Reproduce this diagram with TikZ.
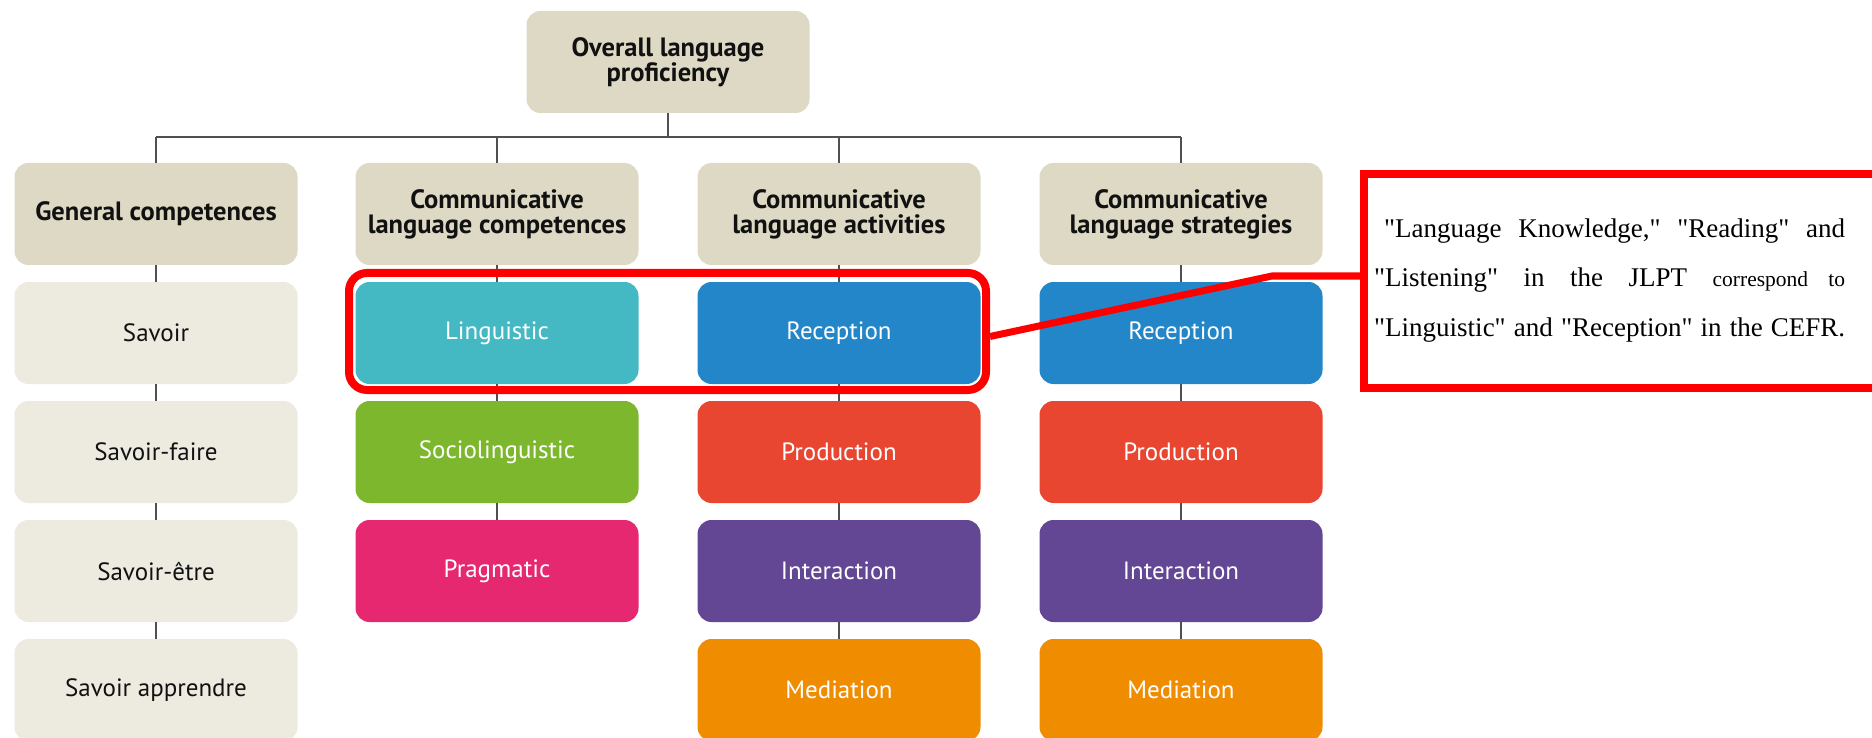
\documentclass[tikz,border=0pt]{standalone}
\usepackage{fontspec}
\setmainfont{PT Sans}
\newfontfamily\tnr{Liberation Serif}
\definecolor{hdrc}{HTML}{DDD9C4}
\definecolor{genc}{HTML}{EDEAE0}
\definecolor{lingc}{HTML}{44B9C3}
\definecolor{recc}{HTML}{2386C8}
\definecolor{socc}{HTML}{7CB72D}
\definecolor{prodc}{HTML}{E84631}
\definecolor{pragc}{HTML}{E5286F}
\definecolor{intc}{HTML}{634694}
\definecolor{medc}{HTML}{F08C00}
\definecolor{linec}{HTML}{505050}
\definecolor{txt}{HTML}{111111}
\definecolor{hired}{HTML}{FF0000}
\begin{document}
\begin{tikzpicture}[x=1pt,y=-1pt,
  box/.style={rounded corners=14pt, minimum width=283pt, minimum height=102pt, inner sep=2pt, align=center, font=\fontsize{25}{27}\selectfont},
  hdr/.style={box, fill=hdrc, text=txt, font=\bfseries\fontsize{26.5}{25}\selectfont},
  gen/.style={box, fill=genc, text=txt},
  colbox/.style={box, fill=#1, text=white},
  conn/.style={draw=linec, line width=1.6pt},
  redline/.style={draw=hired, line width=8pt},
  notefont/.style={font=\tnr\fontsize{27}{30}\selectfont}
]
\useasboundingbox (0,0) rectangle (1872,738);
\clip (0,0) rectangle (1872,738);
\fill[white] (0,0) rectangle (1872,738);

% top
\node[hdr] (top) at (668,62) {Overall language\\proficiency};

% headers
\node[hdr] (h1) at (156,214) {General competences};
\node[hdr] (h2) at (497,214) {Communicative\\language competences};
\node[hdr] (h3) at (839,214) {Communicative\\language activities};
\node[hdr] (h4) at (1181,214) {Communicative\\language strategies};

% column 1
\node[gen] (a1) at (156,333) {Savoir};
\node[gen] (a2) at (156,452) {Savoir-faire};
\node[gen] (a3) at (156,571) {Savoir-être};
\node[gen] (a4) at (156,690) {Savoir apprendre};

% column 2
\node[colbox=lingc] (b1) at (497,333) {Linguistic};
\node[colbox=socc] (b2) at (497,452) {Sociolinguistic};
\node[colbox=pragc] (b3) at (497,571) {Pragmatic};

% column 3
\node[colbox=recc] (c1) at (839,333) {Reception};
\node[colbox=prodc] (c2) at (839,452) {Production};
\node[colbox=intc] (c3) at (839,571) {Interaction};
\node[colbox=medc] (c4) at (839,690) {Mediation};

% column 4
\node[colbox=recc] (d1) at (1181,333) {Reception};
\node[colbox=prodc] (d2) at (1181,452) {Production};
\node[colbox=intc] (d3) at (1181,571) {Interaction};
\node[colbox=medc] (d4) at (1181,690) {Mediation};

% tree connectors
\coordinate (bus) at (668,137);
\draw[conn] (top.south) -- (bus);
\draw[conn] (h1.north |- bus) -- (h4.north |- bus);
\foreach \h in {h1,h2,h3,h4} {\draw[conn] (\h.north) -- (\h.north |- bus);}
\draw[conn] (h1.south) -- (a1.north);
\draw[conn] (a1.south) -- (a2.north);
\draw[conn] (a2.south) -- (a3.north);
\draw[conn] (a3.south) -- (a4.north);
\draw[conn] (h2.south) -- (b1.north);
\draw[conn] (b1.south) -- (b2.north);
\draw[conn] (b2.south) -- (b3.north);
\draw[conn] (h3.south) -- (c1.north);
\draw[conn] (c1.south) -- (c2.north);
\draw[conn] (c2.south) -- (c3.north);
\draw[conn] (c3.south) -- (c4.north);
\draw[conn] (h4.south) -- (d1.north);
\draw[conn] (d1.south) -- (d2.north);
\draw[conn] (d2.south) -- (d3.north);
\draw[conn] (d3.south) -- (d4.north);

% highlight and note
\node[redline, rounded corners=18pt, inner sep=0pt, minimum width=637pt, minimum height=117pt] (hl) at (667.5,331.5) {};
\node[redline, inner sep=0pt, minimum width=540pt, minimum height=214pt] (note) at (1634,281) {};
\coordinate (bend) at (1272,276);
\draw[draw=hired, line width=7pt] ([yshift=-5pt]hl.east) -- (bend) -- (bend -| note.west);

\node[notefont, anchor=base west, inner sep=0pt] (t1) at (1384,238) {\makebox[461pt][s]{"Language Knowledge," "Reading" and}};
\node[notefont, anchor=base west, inner sep=0pt] (t2) at (1374,287) {\makebox[471pt][s]{"Listening" in the JLPT {\fontsize{21.5}{24}\selectfont correspond to}}};
\node[notefont, anchor=base west, inner sep=0pt] (t3) at (1374,336) {\makebox[471pt][s]{"Linguistic" and "Reception" in the CEFR.}};
\end{tikzpicture}
\end{document}
